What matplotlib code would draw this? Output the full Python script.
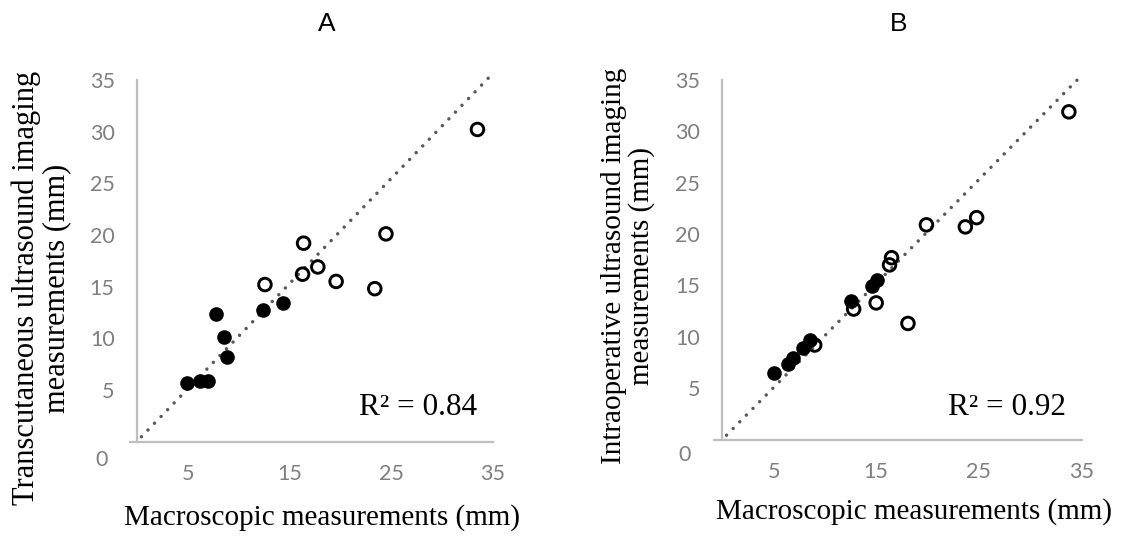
import matplotlib
matplotlib.use("Agg")
import matplotlib.pyplot as plt

# A: transcutaneous US vs macroscopic (mm)
a_fill_x = [4.9, 6.2, 7.0, 7.8, 8.6, 8.9, 12.4, 14.4]
a_fill_y = [5.7, 5.9, 5.9, 12.4, 10.1, 8.2, 12.7, 13.4]
a_open_x = [12.6, 16.4, 16.3, 17.8, 19.6, 23.4, 24.5, 33.5]
a_open_y = [15.2, 19.2, 16.2, 16.9, 15.5, 14.8, 20.1, 30.2]
a_fit_x = [0.45, 34.8]
a_fit_y = [0.48, 35.4]
a_r2 = "R² = 0.84"

# B: intraoperative US vs macroscopic (mm)
b_fill_x = [5.0, 6.4, 6.9, 7.9, 8.5, 12.5, 14.6, 15.1]
b_fill_y = [6.5, 7.4, 7.9, 8.9, 9.7, 13.5, 14.9, 15.5]
b_open_x = [9.0, 12.8, 15.0, 16.3, 16.5, 18.1, 19.9, 23.7, 24.8, 33.8]
b_open_y = [9.2, 12.7, 13.3, 17.0, 17.7, 11.3, 20.9, 20.7, 21.6, 31.9]
b_fit_x = [0.4, 35.0]
b_fit_y = [0.42, 35.4]
b_r2 = "R² = 0.92"

xticks = [5, 15, 25, 35]
yticks = [5, 10, 15, 20, 25, 30, 35]

serif = "Liberation Serif"
tick_font = "Lato"
grey = "#7f7f7f"

fig = plt.figure(figsize=(11.28, 5.41), dpi=100)

panels = [
    dict(rect=[0.115, 0.1835, 0.3218, 0.669], xlim=(-0.7, 35.0),
         fx=a_fill_x, fy=a_fill_y, ox=a_open_x, oy=a_open_y,
         lx=a_fit_x, ly=a_fit_y, r2=a_r2, title="A",
         ylab="Transcutaneous ultrasound imaging\nmeasurements (mm)", ylab_size=22,
         ylab_pos=(41, 288), xlab_pos=(322, 518), title_pos=(327, 24),
         r2_pos=(477, 415), zero_pos=(102, 460)),
    dict(rect=[0.6332, 0.1876, 0.3262, 0.6645], xlim=(-0.8, 35.1),
         fx=b_fill_x, fy=b_fill_y, ox=b_open_x, oy=b_open_y,
         lx=b_fit_x, ly=b_fit_y, r2=b_r2, title="B",
         ylab="Intraoperative ultrasound imaging\nmeasurements (mm)", ylab_size=21,
         ylab_pos=(628, 266), xlab_pos=(914, 512), title_pos=(899, 24),
         r2_pos=(1066, 415), zero_pos=(685, 455)),
]

W, H = 1128.0, 541.0

for p in panels:
    ax = fig.add_axes(p["rect"])
    ax.plot(p["lx"], p["ly"], color="#595959", lw=2.5,
            linestyle=(0, (0.01, 2.7)), dash_capstyle="round", clip_on=False, zorder=1)
    ax.scatter(p["fx"], p["fy"], s=90, color="black", zorder=3, clip_on=False)
    ax.scatter(p["ox"], p["oy"], s=82, facecolors="none", edgecolors="black",
               linewidths=2.1, zorder=4, clip_on=False)
    ax.set_xlim(*p["xlim"])
    ax.set_ylim(0, 35)
    for s in ["top", "right"]:
        ax.spines[s].set_visible(False)
    ax.spines["left"].set_position(("data", 0))
    for s in ["left", "bottom"]:
        ax.spines[s].set_color("#bebebe")
        ax.spines[s].set_linewidth(1.6)
    ax.set_xticks(xticks)
    ax.set_yticks(yticks)
    ax.tick_params(length=0, labelsize=15.5, labelcolor=grey)
    ax.tick_params(axis="x", pad=16)
    ax.tick_params(axis="y", pad=16)
    for lab in ax.get_xticklabels() + ax.get_yticklabels():
        lab.set_fontfamily(tick_font)
    fig.text(p["zero_pos"][0] / W, 1 - p["zero_pos"][1] / H, "0", fontsize=15.5,
             color=grey, family=tick_font, ha="center", va="center")
    fig.text(p["r2_pos"][0] / W, 1 - p["r2_pos"][1] / H, p["r2"], fontsize=22.5,
             family=serif, ha="right", va="baseline")
    fig.text(p["title_pos"][0] / W, 1 - p["title_pos"][1] / H, p["title"], fontsize=19,
             family="Liberation Sans", ha="center", va="center")
    fig.text(p["xlab_pos"][0] / W, 1 - p["xlab_pos"][1] / H,
             "Macroscopic measurements (mm)", fontsize=21, family=serif,
             ha="center", va="center")
    fig.text(p["ylab_pos"][0] / W, 1 - p["ylab_pos"][1] / H, p["ylab"],
             fontsize=p["ylab_size"], family=serif, rotation=90, ha="center",
             va="center", multialignment="center", linespacing=1.05)

fig.savefig("out.png", dpi=100)
